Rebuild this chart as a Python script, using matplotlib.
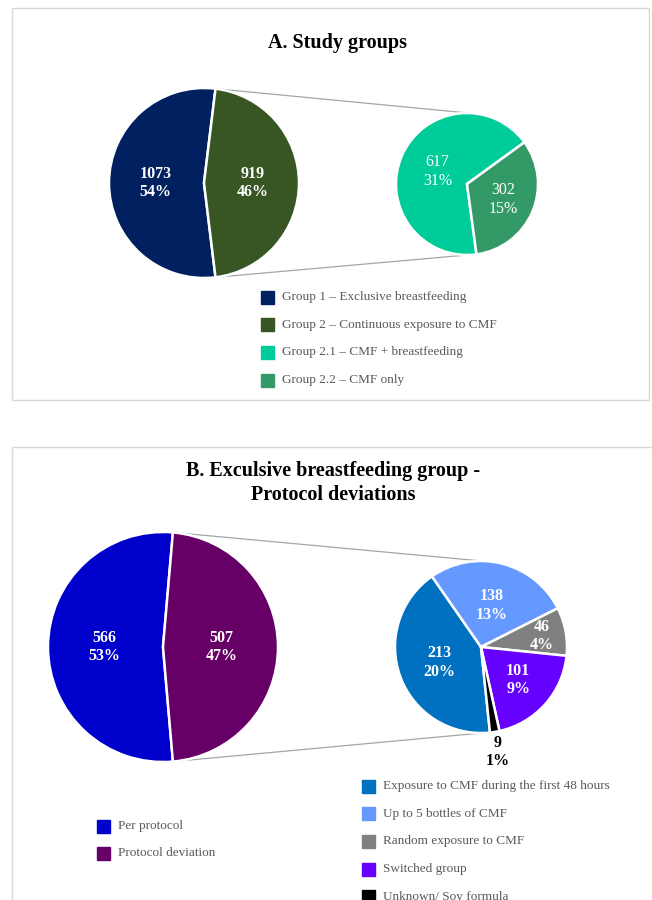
import matplotlib
matplotlib.use("Agg")
import matplotlib.pyplot as plt
from matplotlib.patches import Rectangle
import numpy as np

plt.rcParams["font.family"] = ["Liberation Serif", "DejaVu Serif"]

# --- data ---
A_MAIN_LABELS = ["Group 1 \u2013 Exclusive breastfeeding", "Group 2 \u2013 Continuous exposure to CMF"]
A_MAIN_VALUES = [1073, 919]
A_MAIN_PCT = ["54%", "46%"]
A_SUB_LABELS = ["Group 2.1 \u2013 CMF + breastfeeding", "Group 2.2 \u2013 CMF only"]
A_SUB_VALUES = [617, 302]
A_SUB_PCT = ["31%", "15%"]

B_MAIN_LABELS = ["Per protocol", "Protocol deviation"]
B_MAIN_VALUES = [566, 507]
B_MAIN_PCT = ["53%", "47%"]
B_SUB_LABELS = ["Exposure to CMF during the first 48 hours", "Up to 5 bottles of CMF",
                "Random exposure to CMF", "Switched group", "Unknown/ Soy formula"]
B_SUB_VALUES = [213, 138, 46, 101, 9]
B_SUB_PCT = ["20%", "13%", "4%", "9%", "1%"]

A_MAIN_COLORS = ["#002060", "#375623"]
A_SUB_COLORS = ["#00CC99", "#339966"]
B_MAIN_COLORS = ["#0000CC", "#660066"]
B_SUB_COLORS = ["#0070C0", "#6699FF", "#808080", "#6600FF", "#000000"]

H = 900
fig = plt.figure(figsize=(6.52, 9), dpi=100)
ax = fig.add_axes([0, 0, 1, 1])


def Y(y):
    return H - y


def main_pie(values, colors, center, r, labels_pct, bold=True):
    half = 360 * values[1] / sum(values) / 2
    wedges, _ = ax.pie(values, colors=colors, center=center, radius=r, startangle=half,
                       counterclock=True, wedgeprops=dict(edgecolor="white", linewidth=1.8))
    for w, v, p in zip(wedges, values, labels_pct):
        mid = np.deg2rad((w.theta1 + w.theta2) / 2)
        x = center[0] + 0.51 * r * np.cos(mid)
        y = center[1] + 0.51 * r * np.sin(mid)
        ax.text(x, y, f"{v}\n{p}", ha="center", va="center", color="white",
                fontsize=11.5, fontweight="bold" if bold else "normal", linespacing=1.2)
    return wedges, half


def connectors(center, r, half, sub_center, sub_r):
    for s in (1, -1):
        a = np.deg2rad(s * half)
        b = np.deg2rad(s * 80)
        ax.plot([center[0] + r * np.cos(a), sub_center[0] + sub_r * np.cos(b)],
                [center[1] + r * np.sin(a), sub_center[1] + sub_r * np.sin(b)],
                color="#a6a6a6", lw=0.9, zorder=0)


def legend(labels, colors, x, y0, step):
    for i, (lab, c) in enumerate(zip(labels, colors)):
        y = Y(y0 + i * step)
        ax.add_patch(Rectangle((x, y - 6.5), 13, 13, color=c, clip_on=False))
        ax.text(x + 21, y, lab, ha="left", va="center", fontsize=9.5, color="#595959")


# --- panel A ---
ax.text(338, Y(43), "A. Study groups", ha="center", va="center", fontsize=14.5, fontweight="bold")
cA = (204, Y(183))
wA, halfA = main_pie(A_MAIN_VALUES, A_MAIN_COLORS, cA, 95, A_MAIN_PCT)
cAs = (467, Y(184))
wAs, _ = ax.pie(A_SUB_VALUES, colors=A_SUB_COLORS, center=cAs, radius=71, startangle=36,
                counterclock=True, wedgeprops=dict(edgecolor="white", linewidth=1.8))
for w, v, p, d in zip(wAs, A_SUB_VALUES, A_SUB_PCT, [0.45, 0.55]):
    mid = np.deg2rad((w.theta1 + w.theta2) / 2)
    ax.text(cAs[0] + d * 71 * np.cos(mid), cAs[1] + d * 71 * np.sin(mid), f"{v}\n{p}",
            ha="center", va="center", color="white", fontsize=11.5, linespacing=1.2)
connectors(cA, 95, halfA, cAs, 71)
legend(A_MAIN_LABELS + A_SUB_LABELS, A_MAIN_COLORS + A_SUB_COLORS, 261, 297, 27.7)

# --- panel B ---
ax.text(333, Y(483), "B. Exculsive breastfeeding group -\nProtocol deviations", ha="center",
        va="center", fontsize=14.5, fontweight="bold", linespacing=1.3)
cB = (163, Y(647))
wB, halfB = main_pie(B_MAIN_VALUES, B_MAIN_COLORS, cB, 115, B_MAIN_PCT)
cBs = (481, Y(647))
wBs, _ = ax.pie(B_SUB_VALUES, colors=B_SUB_COLORS, center=cBs, radius=86, startangle=-84,
                counterclock=False, wedgeprops=dict(edgecolor="white", linewidth=1.8))
for w, v, p, d in zip(wBs, B_SUB_VALUES, B_SUB_PCT, [0.52, 0.5, 0.72, 0.58, 1.24]):
    mid = np.deg2rad((w.theta1 + w.theta2) / 2)
    col = "black" if d > 1 else "white"
    ax.text(cBs[0] + d * 86 * np.cos(mid), cBs[1] + d * 86 * np.sin(mid), f"{v}\n{p}",
            ha="center", va="center", color=col, fontsize=11.5, fontweight="bold", linespacing=1.2)
connectors(cB, 115, halfB, cBs, 86)
legend(B_MAIN_LABELS, B_MAIN_COLORS, 97, 826, 27.5)
legend(B_SUB_LABELS, B_SUB_COLORS, 362, 786, 27.7)

# --- panel borders ---
ax.add_patch(Rectangle((12, Y(400)), 637, 392, fill=False, ec="#d9d9d9", lw=1))
ax.add_patch(Rectangle((12, Y(910)), 660, 463, fill=False, ec="#d9d9d9", lw=1))

# pie() resets the limits, so fix the pixel frame last
ax.set_xlim(0, 652)
ax.set_ylim(0, H)
ax.set_aspect("equal")
ax.axis("off")

fig.savefig("out.png", dpi=100)
